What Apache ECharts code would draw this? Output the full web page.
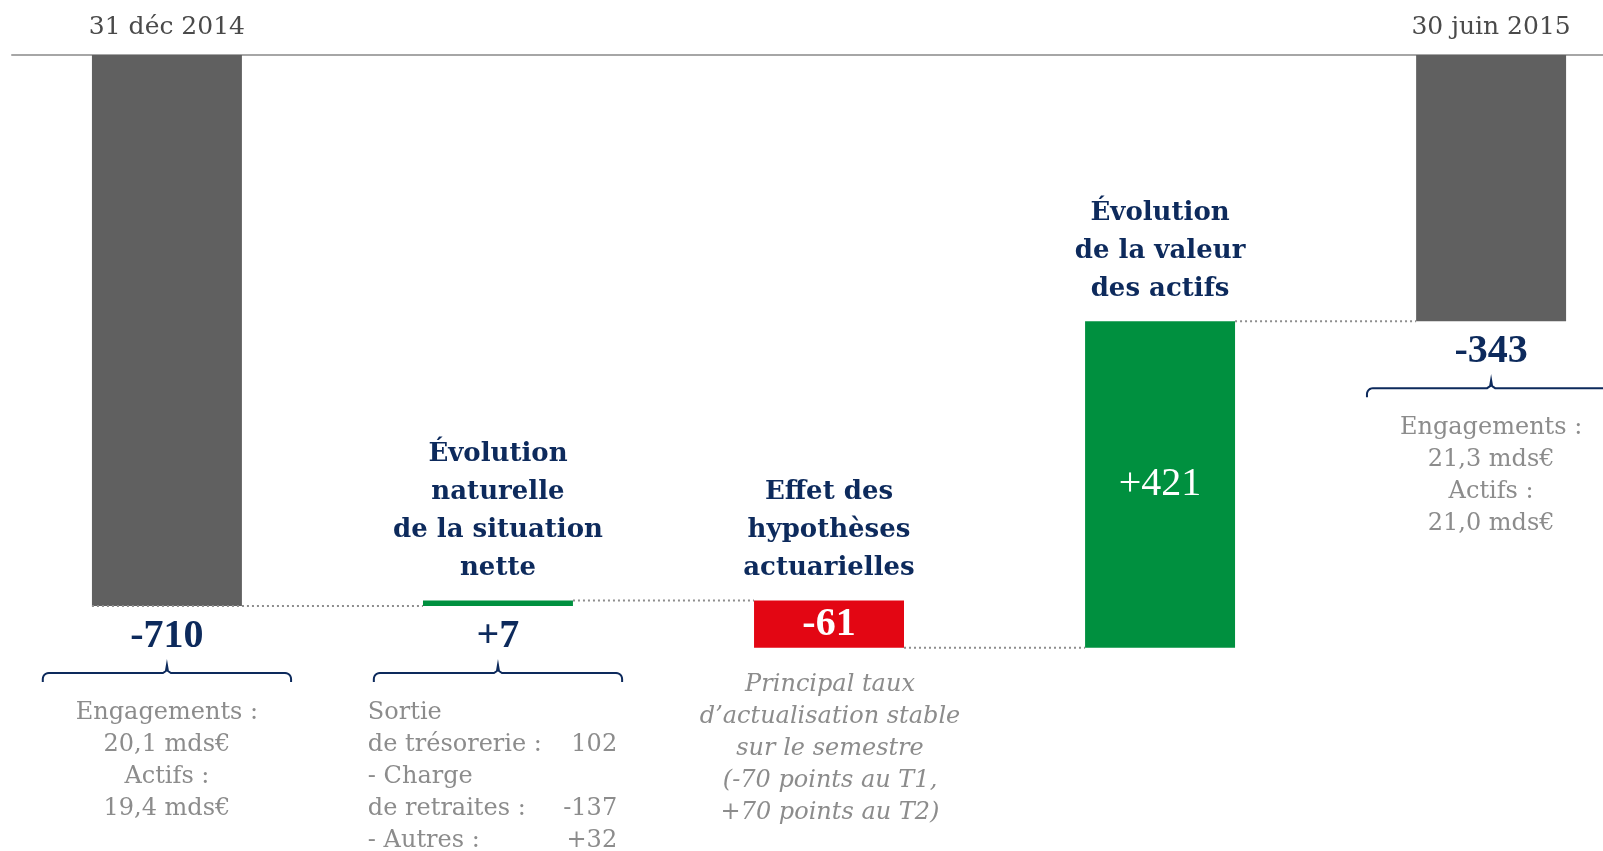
<!DOCTYPE html>
<html>
<head>
<meta charset="utf-8">
<title>Situation nette des engagements de retraite</title>
<script src="https://cdn.jsdelivr.net/npm/echarts@6/dist/echarts.min.js"></script>
<style>
  html, body { margin: 0; padding: 0; background: #ffffff; }
  #chart { width: 1603px; height: 851px; }
</style>
</head>
<body>
<div id="chart"></div>
<script>
// Period labels along the top axis (one per step position)
const periodLabels = ['31 déc 2014', '', '', '', '30 juin 2015'];
// Waterfall steps (M€): opening balance, three movements, closing balance
const stepValues = [-710, 7, -61, 421, -343];
const stepTexts = ['-710', '+7', '-61', '+421', '-343'];
const stepKinds = ['total', 'up', 'down', 'up', 'total'];
const stepTitles = ['', 'Évolution\nnaturelle\nde la situation\nnette', 'Effet des\nhypothèses\nactuarielles', 'Évolution\nde la valeur\ndes actifs', ''];
// Explanatory notes under the bars
const openingNotes = ['Engagements :', '20,1 mds€', 'Actifs :', '19,4 mds€'];
const closingNotes = ['Engagements :', '21,3 mds€', 'Actifs :', '21,0 mds€'];
const netChangeRows = [['Sortie', ''], ['de trésorerie :', '102'], ['- Charge', ''], ['de retraites :', '-137'], ['- Autres :', '+32']];
const actuarialNote = ['Principal taux', 'd’actualisation stable', 'sur le semestre', '(-70 points au T1,', '+70 points au T2)'];

// Palette, type and layout constants
const COLORS = { total: '#606060', up: '#00903f', down: '#e30613' };
const NAVY = '#0d2a5c';
const GREY_TEXT = '#8c8c8c';
const SERIF = '"DejaVu Serif", serif';
const NUM_SERIF = '"Liberation Serif", serif';
const BAR_RATIO = 0.453;       // bar width as a share of one step
const X_MIN = -0.468, X_MAX = 4.338;

// Floating ranges of the waterfall
const tops = [], bottoms = [], levels = [];
let running = 0;
stepValues.forEach((v, i) => {
  if (stepKinds[i] === 'total') {
    running = v;
    tops.push(0);
    bottoms.push(v);
  } else {
    const prev = running;
    running += v;
    tops.push(Math.max(prev, running));
    bottoms.push(Math.min(prev, running));
  }
  levels.push(running);
});

function renderBar(params, api) {
  const i = api.value(0);
  const p1 = api.coord([i, api.value(1)]);
  const p2 = api.coord([i, api.value(2)]);
  const w = api.size([1, 0])[0] * BAR_RATIO;
  return {
    type: 'rect',
    shape: { x: p1[0] - w / 2, y: p1[1], width: w, height: p2[1] - p1[1] },
    style: { fill: COLORS[stepKinds[i]] }
  };
}

// Dotted connectors between consecutive bars
function renderConnector(params, api) {
  const i = api.value(0);
  const lvl = api.value(1);
  const p1 = api.coord([i, lvl]);
  const p2 = api.coord([i + 1, lvl]);
  const half = api.size([1, 0])[0] * BAR_RATIO / 2;
  const x1 = stepKinds[i] === 'total' ? p1[0] - half : p1[0] + half;
  const x2 = p2[0] - half;
  return {
    type: 'line',
    shape: { x1: x1, y1: p1[1], x2: x2, y2: p2[1] },
    style: { stroke: '#8e8e8e', lineWidth: 2, lineDash: [2, 3] }
  };
}

function braceShape(cx, y, hw) {
  const r = 6, pts = [[cx - hw, y + 9]];
  for (let k = 0; k <= 6; k++) {
    const a = Math.PI + (Math.PI / 2) * (k / 6);
    pts.push([cx - hw + r + r * Math.cos(a), y + r + r * Math.sin(a)]);
  }
  pts.push([cx - 4, y], [cx - 1, y - 2], [cx, y - 8], [cx + 1, y - 2], [cx + 4, y]);
  for (let k = 0; k <= 6; k++) {
    const a = -Math.PI / 2 + (Math.PI / 2) * (k / 6);
    pts.push([cx + hw - r + r * Math.cos(a), y + r + r * Math.sin(a)]);
  }
  pts.push([cx + hw, y + 9]);
  return pts;
}

function greyText(text, x, y, align, italic) {
  return {
    type: 'text',
    style: {
      text: text, x: x, y: y, align: align, verticalAlign: 'middle',
      fill: GREY_TEXT, fontFamily: SERIF, fontSize: 24, lineHeight: 32,
      fontStyle: italic ? 'italic' : 'normal'
    }
  };
}

// Titles, value labels, braces and notes attached to each bar
function renderAnnotations(params, api) {
  const i = api.value(0);
  const top = api.coord([i, api.value(1)]);
  const bottom = api.coord([i, api.value(2)]);
  const cx = top[0];
  const band = api.size([1, 0])[0];
  const children = [];

  if (stepTitles[i]) {
    children.push({
      type: 'text',
      style: {
        text: stepTitles[i], x: cx, y: top[1] - 13, align: 'center', verticalAlign: 'bottom',
        fill: NAVY, fontFamily: SERIF, fontWeight: 'bold', fontSize: 26, lineHeight: 38
      }
    });
  }

  const height = bottom[1] - top[1];
  const inside = stepKinds[i] !== 'total' && height > 40;
  if (inside) {
    children.push({
      type: 'text',
      style: {
        text: stepTexts[i], x: cx, y: (top[1] + bottom[1]) / 2, align: 'center', verticalAlign: 'middle',
        fill: '#ffffff', fontFamily: NUM_SERIF, fontWeight: stepKinds[i] === 'down' ? 'bold' : 'normal', fontSize: 40
      }
    });
  } else {
    children.push({
      type: 'text',
      style: {
        text: stepTexts[i], x: cx, y: bottom[1] + 31, align: 'center', verticalAlign: 'middle',
        fill: NAVY, fontFamily: NUM_SERIF, fontWeight: 'bold', fontSize: 40
      }
    });
    children.push({
      type: 'polyline',
      shape: { points: braceShape(cx, bottom[1] + 67, band * 0.375) },
      style: { stroke: NAVY, lineWidth: 2, fill: null }
    });
  }

  const y0 = bottom[1] + 107;
  if (i === 0 || i === stepValues.length - 1) {
    const lines = i === 0 ? openingNotes : closingNotes;
    lines.forEach((t, k) => children.push(greyText(t, cx, y0 + k * 32, 'center', false)));
  } else if (stepKinds[i] === 'up' && !inside) {
    netChangeRows.forEach((row, k) => {
      children.push(greyText(row[0], cx - band * 0.393, y0 + k * 32, 'left', false));
      if (row[1]) children.push(greyText(row[1], cx + band * 0.36, y0 + k * 32, 'right', false));
    });
  } else if (stepKinds[i] === 'down') {
    actuarialNote.forEach((t, k) => children.push(greyText(t, cx + 1, bottom[1] + 37 + k * 32, 'center', true)));
  }

  return { type: 'group', children: children };
}

const chart = echarts.init(document.getElementById('chart'), null, { renderer: 'canvas' });
chart.setOption({
  animation: false,
  backgroundColor: '#ffffff',
  grid: { left: 12, right: 0, top: 55, height: 776, containLabel: false },
  xAxis: {
    type: 'value',
    position: 'top',
    min: X_MIN,
    max: X_MAX,
    axisLine: { show: true, lineStyle: { color: '#a6a6a6', width: 2 } },
    axisTick: { show: false },
    axisLabel: {
      customValues: periodLabels.map((t, i) => i).filter(i => periodLabels[i]),
      formatter: v => periodLabels[Math.round(v)] || '',
      margin: 15, fontSize: 25, fontFamily: SERIF, color: '#4a4a4a'
    },
    splitLine: { show: false }
  },
  yAxis: {
    type: 'value',
    min: -1000,
    max: 0,
    show: false
  },
  series: [
    {
      name: 'barres',
      type: 'custom',
      renderItem: renderBar,
      encode: { x: 0, y: [1, 2] },
      data: stepValues.map((v, i) => [i, tops[i], bottoms[i]]),
      clip: false,
      z: 2
    },
    {
      name: 'connecteurs',
      type: 'custom',
      renderItem: renderConnector,
      encode: { x: 0, y: 1 },
      data: levels.slice(0, levels.length - 1).map((l, i) => [i, l]),
      clip: false,
      z: 3,
      silent: true
    },
    {
      name: 'annotations',
      type: 'custom',
      renderItem: renderAnnotations,
      encode: { x: 0, y: [1, 2] },
      data: stepValues.map((v, i) => [i, tops[i], bottoms[i]]),
      clip: false,
      z: 4,
      silent: true
    }
  ]
});
</script>
</body>
</html>
